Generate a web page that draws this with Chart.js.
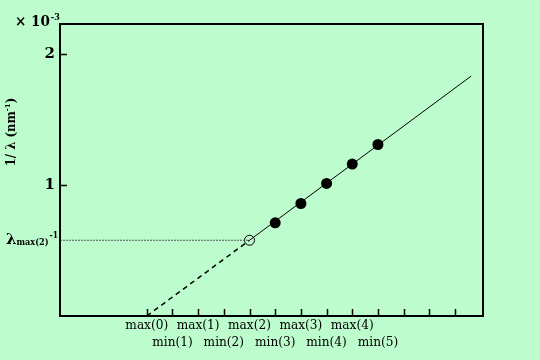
<!DOCTYPE html>
<html>
<head>
<meta charset="utf-8">
<script src="https://cdn.jsdelivr.net/npm/chart.js@4/dist/chart.umd.min.js"></script>
<style>
  body { margin: 0; background: #bdfccc; }
  canvas { display: block; }
</style>
</head>
<body>
<canvas id="myChart" width="540" height="360"></canvas>
<script>
// x axis: one tick per fringe order, labels alternate max / min
var xTicks = [0, 1, 2, 3, 4, 5, 6, 7, 8, 9, 10, 11, 12];
var xLabels = ['max(0)', 'min(1)', 'max(1)', 'min(2)', 'max(2)', 'min(3)', 'max(3)', 'min(4)', 'max(4)', 'min(5)', '', '', ''];
var yTicks = [1, 2];
var yLabels = ['1', '2'];

// measured points (1/lambda, x10^-3 nm^-1)
var measuredX = [5, 6, 7, 8, 9];
var measuredY = [0.712, 0.860, 1.013, 1.161, 1.311];

// open circle at max(2)
var openX = [4];
var openY = [0.579];

// fitted line and its extrapolation to zero
var fitX = [4, 12.63];
var fitY = [0.579, 1.834];
var extrapX = [0, 4];
var extrapY = [0, 0.579];

var xMin = -3.378, xMax = 13.09;
var yMin = 0, yMax = 2.232;

function pts(xs, ys) {
  return xs.map(function (x, i) { return {x: x, y: ys[i]}; });
}

var serif = '"DejaVu Serif", "Liberation Serif", serif';
var serifC = '"DejaVu Serif Condensed", "DejaVu Serif", serif';

var decor = {
  id: 'decor',
  afterDraw: function (chart) {
    var c = chart.ctx, a = chart.chartArea;
    var xs = chart.scales.x, ys = chart.scales.y;
    c.save();
    c.strokeStyle = '#000';
    // inward tick marks
    c.lineWidth = 1.5;
    xTicks.forEach(function (v) {
      var px = Math.round(xs.getPixelForValue(v)) + 0.5;
      c.beginPath(); c.moveTo(px, a.bottom); c.lineTo(px, a.bottom - 7); c.stroke();
    });
    yTicks.forEach(function (v) {
      var py = Math.round(ys.getPixelForValue(v)) + 0.5;
      c.beginPath(); c.moveTo(a.left, py); c.lineTo(a.left + 7, py); c.stroke();
    });
    // frame
    c.lineWidth = 2;
    c.strokeRect(a.left, a.top, a.right - a.left, a.bottom - a.top);

    c.fillStyle = '#000';
    c.textBaseline = 'alphabetic';
    c.textAlign = 'left';
    // x 10^-3
    c.font = 'bold 15px ' + serifC;
    c.fillText('\u00d7 10', 15, 26);
    var w = c.measureText('\u00d7 10').width;
    c.font = 'bold 9px ' + serifC;
    c.fillText('-3', 15 + w + 1, 20);

    // lambda max(2)^-1 label on the y axis
    var ly = Math.round(ys.getPixelForValue(openY[0]));
    var x0 = 6;
    c.font = 'bold 15px ' + serif;
    c.fillText('\u03bb', x0, ly + 4);
    x0 += c.measureText('\u03bb').width;
    c.font = 'bold 9px ' + serifC;
    c.fillText('max(2)', x0, ly + 5);
    x0 += c.measureText('max(2)').width + 1;
    c.font = 'bold 8.5px ' + serifC;
    c.fillText('-1', x0, ly - 2);

    // rotated y title
    c.translate(15, 132);
    c.rotate(-Math.PI / 2);
    c.font = 'bold 13px ' + serifC;
    var t1 = '1/ \u03bb (nm', t3 = ')';
    var w1 = c.measureText(t1).width, w3 = c.measureText(t3).width;
    c.font = 'bold 8px ' + serifC;
    var w2 = c.measureText('-1').width;
    var start = -(w1 + w2 + w3) / 2;
    c.font = 'bold 13px ' + serifC;
    c.fillText(t1, start, 0);
    c.fillText(t3, start + w1 + w2, 0);
    c.font = 'bold 8px ' + serifC;
    c.fillText('-1', start + w1, -5);
    c.restore();
  }
};

var ctx = document.getElementById('myChart').getContext('2d');
var myChart = new Chart(ctx, {
  type: 'scatter',
  data: {
    datasets: [{
      data: pts([xMin, openX[0]], [openY[0], openY[0]]),
      showLine: true,
      borderColor: '#555',
      borderWidth: 1,
      borderDash: [2, 1],
      pointRadius: 0
    }, {
      data: pts(extrapX, extrapY),
      showLine: true,
      borderColor: '#000',
      borderWidth: 1.5,
      borderDash: [5, 4],
      pointRadius: 0
    }, {
      data: pts(fitX, fitY),
      showLine: true,
      borderColor: '#000',
      borderWidth: 1,
      pointRadius: 0
    }, {
      data: pts(openX, openY),
      pointRadius: 5,
      pointBackgroundColor: 'rgba(0,0,0,0)',
      pointBorderColor: '#000',
      pointBorderWidth: 1
    }, {
      data: pts(measuredX, measuredY),
      pointRadius: 5.5,
      pointBackgroundColor: '#000',
      pointBorderColor: '#000',
      pointBorderWidth: 0
    }]
  },
  options: {
    responsive: false,
    animation: false,
    events: [],
    layout: { padding: { top: 24, right: 57, left: 0, bottom: 0 } },
    plugins: { legend: { display: false }, tooltip: { enabled: false } },
    scales: {
      x: {
        type: 'linear',
        min: xMin,
        max: xMax,
        afterBuildTicks: function (s) { s.ticks = xTicks.map(function (v) { return {value: v}; }); },
        afterFit: function (s) { s.height = 44; },
        grid: { display: false, drawTicks: false },
        border: { display: false },
        ticks: {
          autoSkip: false,
          maxRotation: 0,
          padding: 1,
          color: '#000',
          font: { family: serifC, size: 13.5, lineHeight: 1.25 },
          callback: function (v) {
            var i = xTicks.indexOf(v);
            if (i < 0 || !xLabels[i]) return '';
            return i % 2 === 0 ? [xLabels[i], ''] : ['', xLabels[i]];
          }
        }
      },
      y: {
        type: 'linear',
        min: yMin,
        max: yMax,
        afterBuildTicks: function (s) { s.ticks = yTicks.map(function (v) { return {value: v}; }); },
        afterFit: function (s) { s.width = 60; },
        grid: { display: false, drawTicks: false },
        border: { display: false },
        ticks: {
          padding: 5,
          color: '#000',
          font: { family: serif, size: 15, weight: 'bold' },
          callback: function (v) {
            var i = yTicks.indexOf(v);
            return i < 0 ? '' : yLabels[i];
          }
        }
      }
    }
  },
  plugins: [decor]
});
</script>
</body>
</html>
